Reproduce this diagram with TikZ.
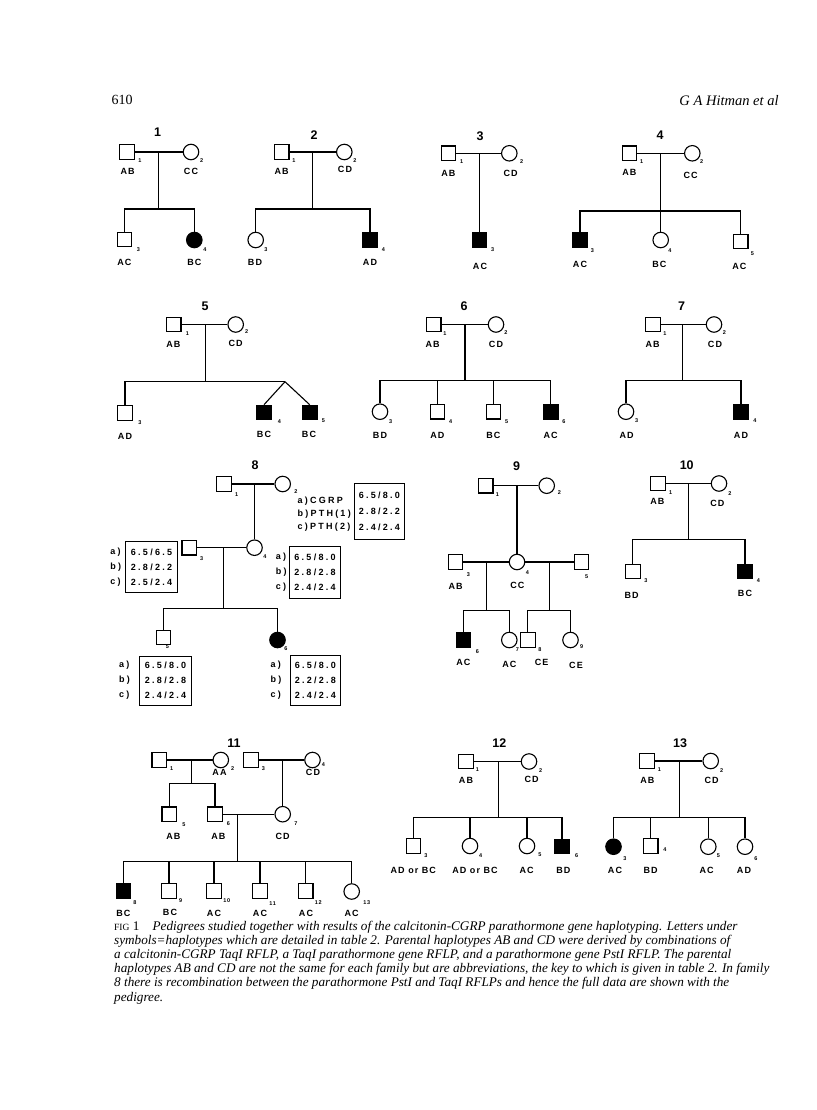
\documentclass[tikz,border=0pt]{standalone}
\usepackage{fontspec}
\setmainfont{Liberation Serif}
\setsansfont{Liberation Sans}
\newfontfamily\pedsans[LetterSpace=12]{Liberation Sans}
\newfontfamily\boxsans[LetterSpace=25]{Liberation Sans}
\usepackage{tikz}
\usetikzlibrary{positioning}
\newcommand\labfont{\pedsans\bfseries\fontsize{9}{10}\selectfont}
\newcommand\idfont{\pedsans\bfseries\fontsize{5.5}{6}\selectfont}
\newcommand\pnofont{\sffamily\bfseries\fontsize{12.5}{14}\selectfont}
\newcommand\boxfont{\boxsans\bfseries\fontsize{9}{15}\selectfont}
\newcommand\capfont{\rmfamily\itshape\fontsize{13.2}{14}\selectfont}

\begin{document}
\begin{tikzpicture}[x=1pt, y=-1pt,
  ln/.style={line width=1.1pt},
  sq/.style={draw, line width=1.1pt, minimum size=14.5pt, inner sep=0pt},
  sqf/.style={sq, fill=black},
  ci/.style={draw, circle, line width=1.1pt, minimum size=15.5pt, inner sep=0pt},
  cif/.style={ci, fill=black},
  lab/.style={font=\labfont, inner sep=0pt},
  idn/.style={font=\idfont, inner sep=0pt},
  pno/.style={font=\pnofont, inner sep=0pt},
  hbox/.style={draw, line width=0.9pt, inner sep=0pt, align=center, font=\boxfont},
  abc/.style={font=\boxfont, inner sep=0pt, align=left},
  captxt/.style={font=\capfont, inner sep=0pt, anchor=base west}]
  \useasboundingbox (0,0) rectangle (816,1110);

  \node[font=\rmfamily\fontsize{14}{16}\selectfont, inner sep=0pt] (pgno) at (122.2,100) {610};
  \node[font=\rmfamily\itshape\fontsize{14.5}{16}\selectfont, inner sep=0pt] (runhd) at (729,101) {G A Hitman et al};

  % family 1
  \node[pno] (f1no) at (157.7,132.7) {1};
  \node[sq] (f1p1) at (127,152) {};
  \node[ci] (f1p2) at (191,152) {};
  \node[sq] (f1p3) at (124.3,239.5) {};
  \node[cif] (f1p4) at (194.3,240) {};
  \coordinate (f1m) at (158.7,152);
  \coordinate (f1s) at (158.7,209);
  \draw[ln] (f1p1) -- (f1p2);
  \draw[ln] (f1m) -- (f1s);
  \draw[ln] (f1p3) |- (f1s) -| (f1p4);
  \node[lab] (f1l1) at (127.7,171) {AB};
  \node[lab] (f1l2) at (191,171) {CC};
  \node[lab] (f1l3) at (124.3,262) {AC};
  \node[lab] (f1l4) at (194.3,262) {BC};
  \node[idn] (f1i1) at (140,161) {1};
  \node[idn] (f1i2) at (201.7,160.7) {2};
  \node[idn] (f1i3) at (138.3,250) {3};
  \node[idn] (f1i4) at (205,250) {4};

  % family 2
  \node[pno] (f2no) at (314,135) {2};
  \node[sq] (f2p1) at (281.7,152) {};
  \node[ci] (f2p2) at (344.3,152) {};
  \node[ci] (f2p3) at (255.7,240) {};
  \node[sqf] (f2p4) at (370,240) {};
  \coordinate (f2m) at (312.3,152);
  \coordinate (f2s) at (312.3,209);
  \draw[ln] (f2p1) -- (f2p2);
  \draw[ln] (f2m) -- (f2s);
  \draw[ln] (f2p3) |- (f2s) -| (f2p4);
  \node[lab] (f2l1) at (281.7,171) {AB};
  \node[lab] (f2l2) at (345,169.5) {CD};
  \node[lab] (f2l3) at (255,262) {BD};
  \node[lab] (f2l4) at (370,262) {AD};
  \node[idn] (f2i1) at (294,161) {1};
  \node[idn] (f2i2) at (355,160.7) {2};
  \node[idn] (f2i3) at (266,250) {3};
  \node[idn] (f2i4) at (383.3,250) {4};

  % family 3
  \node[pno] (f3no) at (480,136.7) {3};
  \node[sq] (f3p1) at (448.3,153.3) {};
  \node[ci] (f3p2) at (509.3,153.3) {};
  \node[sqf] (f3p3) at (479.5,240) {};
  \coordinate (f3m) at (479.5,153.3);
  \draw[ln] (f3p1) -- (f3p2);
  \draw[ln] (f3m) -- (f3p3);
  \node[lab] (f3l1) at (448.3,173.3) {AB};
  \node[lab] (f3l2) at (510.7,173.3) {CD};
  \node[lab] (f3l3) at (480,266) {AC};
  \node[idn] (f3i1) at (461.7,161.7) {1};
  \node[idn] (f3i2) at (521.7,161.7) {2};
  \node[idn] (f3i3) at (492.7,249.3) {3};

  % family 4
  \node[pno] (f4no) at (660,135) {4};
  \node[sq] (f4p1) at (629.3,153.3) {};
  \node[ci] (f4p2) at (692.3,153.3) {};
  \node[sqf] (f4p3) at (580,240) {};
  \node[ci] (f4p4) at (660.7,240) {};
  \node[sq] (f4p5) at (740.7,241.5) {};
  \coordinate (f4m) at (660.7,153.3);
  \coordinate (f4s) at (660.7,211);
  \draw[ln] (f4p1) -- (f4p2);
  \draw[ln] (f4m) -- (f4s);
  \draw[ln] (f4p3) |- (f4s) -| (f4p5);
  \draw[ln] (f4p4) -- (f4p4 |- f4s);
  \node[lab] (f4l1) at (629.3,172.3) {AB};
  \node[lab] (f4l2) at (690.7,175) {CC};
  \node[lab] (f4l3) at (580,264) {AC};
  \node[lab] (f4l4) at (659.3,264) {BC};
  \node[lab] (f4l5) at (739.3,266) {AC};
  \node[idn] (f4i1) at (641.7,161.7) {1};
  \node[idn] (f4i2) at (701.7,161.7) {2};
  \node[idn] (f4i3) at (592.3,250.7) {3};
  \node[idn] (f4i4) at (670,250.7) {4};
  \node[idn] (f4i5) at (752.3,253.3) {5};

  % family 5
  \node[pno] (f5no) at (205,306) {5};
  \node[sq] (f5p1) at (173.7,324.5) {};
  \node[ci] (f5p2) at (235.7,324.5) {};
  \node[sq] (f5p3) at (125,413) {};
  \node[sqf] (f5p4) at (264,412.5) {};
  \node[sqf] (f5p5) at (309.7,412.5) {};
  \coordinate (f5m) at (205.7,324.5);
  \coordinate (f5s) at (205.7,381.7);
  \coordinate (f5t) at (285,381.7);
  \draw[ln] (f5p1) -- (f5p2);
  \draw[ln] (f5m) -- (f5s);
  \draw[ln] (f5p3) |- (f5t);
  \draw[ln] (f5t) -- (f5p4.north);
  \draw[ln] (f5t) -- (f5p5.north);
  \node[lab] (f5l1) at (173.3,344.3) {AB};
  \node[lab] (f5l2) at (235.7,343.3) {CD};
  \node[lab] (f5l3) at (125,436.7) {AD};
  \node[lab] (f5l4) at (264,434) {BC};
  \node[lab] (f5l5) at (309,434) {BC};
  \node[idn] (f5i1) at (187.3,333.3) {1};
  \node[idn] (f5i2) at (246.7,331.7) {2};
  \node[idn] (f5i3) at (140,422.7) {3};
  \node[idn] (f5i4) at (279.3,421.7) {4};
  \node[idn] (f5i5) at (323.3,421) {5};

  % family 6
  \node[pno] (f6no) at (464,306) {6};
  \node[sq] (f6p1) at (433.7,324.5) {};
  \node[ci] (f6p2) at (496,324.5) {};
  \node[ci] (f6p3) at (380,411.7) {};
  \node[sq] (f6p4) at (437.3,411.7) {};
  \node[sq] (f6p5) at (493.3,411.7) {};
  \node[sqf] (f6p6) at (550.7,411.7) {};
  \coordinate (f6m) at (465,324.5);
  \coordinate (f6s) at (465,380.7);
  \draw[ln] (f6p1) -- (f6p2);
  \draw[ln] (f6m) -- (f6s);
  \draw[ln] (f6p3) |- (f6s) -| (f6p6);
  \draw[ln] (f6p4) -- (f6p4 |- f6s);
  \draw[ln] (f6p5) -- (f6p5 |- f6s);
  \node[lab] (f6l1) at (432.7,344) {AB};
  \node[lab] (f6l2) at (496,344) {CD};
  \node[lab] (f6l3) at (380,435.7) {BD};
  \node[lab] (f6l4) at (437.3,435.7) {AD};
  \node[lab] (f6l5) at (493.3,435.7) {BC};
  \node[lab] (f6l6) at (550.7,435.7) {AC};
  \node[idn] (f6i1) at (445,333.3) {1};
  \node[idn] (f6i2) at (506,332.7) {2};
  \node[idn] (f6i3) at (390.7,421.7) {3};
  \node[idn] (f6i4) at (450.7,421.7) {4};
  \node[idn] (f6i5) at (506.7,421.7) {5};
  \node[idn] (f6i6) at (564,421.7) {6};

  % family 7
  \node[pno] (f7no) at (681.7,306) {7};
  \node[sq] (f7p1) at (653,324.5) {};
  \node[ci] (f7p2) at (714,324.5) {};
  \node[ci] (f7p3) at (626,411.7) {};
  \node[sqf] (f7p4) at (741,411.7) {};
  \coordinate (f7m) at (682.7,324.5);
  \coordinate (f7s) at (682.7,380.7);
  \draw[ln] (f7p1) -- (f7p2);
  \draw[ln] (f7m) -- (f7s);
  \draw[ln] (f7p3) |- (f7s) -| (f7p4);
  \node[lab] (f7l1) at (652.7,344) {AB};
  \node[lab] (f7l2) at (715,344) {CD};
  \node[lab] (f7l3) at (626.7,435.7) {AD};
  \node[lab] (f7l4) at (741,435.7) {AD};
  \node[idn] (f7i1) at (665,333.3) {1};
  \node[idn] (f7i2) at (724.3,332.7) {2};
  \node[idn] (f7i3) at (636.7,421) {3};
  \node[idn] (f7i4) at (755,421) {4};

  % family 8
  \node[pno] (f8no) at (255,465) {8};
  \node[sq] (f8p1) at (223.8,484) {};
  \node[ci] (f8p2) at (282.7,484) {};
  \node[sq] (f8p3) at (189.2,547.7) {};
  \node[ci] (f8p4) at (254.5,547.7) {};
  \node[sq] (f8p5) at (163.3,637.5) {};
  \node[cif] (f8p6) at (277.5,640) {};
  \coordinate (f8m) at (254.5,484);
  \coordinate (f8m2) at (223.3,547.7);
  \coordinate (f8s) at (223.3,608.3);
  \draw[ln] (f8p1) -- (f8p2);
  \draw[ln] (f8m) -- (f8p4);
  \draw[ln] (f8p3) -- (f8p4);
  \draw[ln] (f8m2) -- (f8s);
  \draw[ln] (f8p5) |- (f8s) -| (f8p6);
  \node[idn] (f8i1) at (236.7,494.3) {1};
  \node[idn] (f8i2) at (296,491.7) {2};
  \node[idn] (f8i3) at (201.7,558.3) {3};
  \node[idn] (f8i4) at (265,556.7) {4};
  \node[idn] (f8i5) at (167.3,646.7) {5};
  \node[idn] (f8i6) at (286,648.3) {6};
  \node[hbox, minimum width=50pt, minimum height=56pt, font=\boxsans\bfseries\fontsize{9}{16}\selectfont] (f8k) at (379.3,511.3) {6.5/8.0\\2.8/2.2\\2.4/2.4};
  \node[abc, anchor=west, font=\boxsans\bfseries\fontsize{9}{12.7}\selectfont] (f8kl) at (297.3,514.3) {a)CGRP\\b)PTH(1)\\c)PTH(2)};
  \node[hbox, minimum width=51.6pt, minimum height=51pt] (f8b3) at (151.5,567.2) {6.5/6.5\\2.8/2.2\\2.5/2.4};
  \node[abc, left=4pt of f8b3] (f8a3) {a)\\b)\\c)};
  \node[hbox, minimum width=51.4pt, minimum height=52.3pt] (f8b4) at (315,572.2) {6.5/8.0\\2.8/2.8\\2.4/2.4};
  \node[abc, left=2pt of f8b4] (f8a4) {a)\\b)\\c)};
  \node[hbox, minimum width=52pt, minimum height=49pt] (f8b5) at (165.5,680.5) {6.5/8.0\\2.8/2.8\\2.4/2.4};
  \node[abc, left=9pt of f8b5] (f8a5) {a)\\b)\\c)};
  \node[hbox, minimum width=50.7pt, minimum height=50pt] (f8b6) at (315.3,680) {6.5/8.0\\2.2/2.8\\2.4/2.4};
  \node[abc, left=8pt of f8b6] (f8a6) {a)\\b)\\c)};

  % family 9
  \node[pno] (f9no) at (516.7,466) {9};
  \node[sq] (f9p1) at (485.7,485.7) {};
  \node[ci] (f9p2) at (546.7,485.7) {};
  \node[sq] (f9p3) at (455.3,562) {};
  \node[ci] (f9p4) at (517,562) {};
  \node[sq] (f9p5) at (581.3,562) {};
  \node[sqf] (f9p6) at (463.5,639.7) {};
  \node[ci] (f9p7) at (509.3,640) {};
  \node[sq] (f9p8) at (527.8,640) {};
  \node[ci] (f9p9) at (570.5,640) {};
  \coordinate (f9m) at (517,485.7);
  \coordinate (f9m2) at (486.7,562);
  \coordinate (f9s2) at (486.7,610.5);
  \coordinate (f9m3) at (549.3,562);
  \coordinate (f9s3) at (549.3,610.5);
  \draw[ln] (f9p1) -- (f9p2);
  \draw[ln] (f9m) -- (f9p4);
  \draw[ln] (f9p3) -- (f9p4);
  \draw[ln] (f9p4) -- (f9p5);
  \draw[ln] (f9m2) -- (f9s2);
  \draw[ln] (f9m3) -- (f9s3);
  \draw[ln] (f9p6) |- (f9s2) -| (f9p7);
  \draw[ln] (f9p8) |- (f9s3) -| (f9p9);
  \node[lab] (f9l3) at (455.7,586) {AB};
  \node[lab] (f9l4) at (517.3,585) {CC};
  \node[lab] (f9l6) at (463.3,662.3) {AC};
  \node[lab] (f9l7) at (509.3,664) {AC};
  \node[lab] (f9l8) at (541.7,662.3) {CE};
  \node[lab] (f9l9) at (576,665) {CE};
  \node[idn] (f9i1) at (497.3,495) {1};
  \node[idn] (f9i2) at (559.3,492.7) {2};
  \node[idn] (f9i3) at (468.3,574.3) {3};
  \node[idn] (f9i4) at (527.3,572.3) {4};
  \node[idn] (f9i5) at (586.7,576.7) {5};
  \node[idn] (f9i6) at (477.3,651.7) {6};
  \node[idn] (f9i7) at (517.3,650) {7};
  \node[idn] (f9i8) at (540,650) {8};
  \node[idn] (f9i9) at (581.7,646.7) {9};

  % family 10
  \node[pno] (f10no) at (686.7,465) {10};
  \node[sq] (f10p1) at (658,483.5) {};
  \node[ci] (f10p2) at (719,483.5) {};
  \node[sq] (f10p3) at (632.8,571.5) {};
  \node[sqf] (f10p4) at (745,571.5) {};
  \coordinate (f10m) at (688.3,483.5);
  \coordinate (f10s) at (688.3,539.3);
  \draw[ln] (f10p1) -- (f10p2);
  \draw[ln] (f10m) -- (f10s);
  \draw[ln] (f10p3) |- (f10s) -| (f10p4);
  \node[lab] (f10l1) at (657.3,501.7) {AB};
  \node[lab] (f10l2) at (717.3,503.3) {CD};
  \node[lab] (f10l3) at (631.7,595) {BD};
  \node[lab] (f10l4) at (745,593.3) {BC};
  \node[idn] (f10i1) at (670.7,492.7) {1};
  \node[idn] (f10i2) at (730,493.3) {2};
  \node[idn] (f10i3) at (646,580.7) {3};
  \node[idn] (f10i4) at (758.3,580.7) {4};

  % family 11
  \node[pno] (f11no) at (234,743.3) {11};
  \node[sq] (f11p1) at (159.2,760) {};
  \node[ci] (f11p2) at (220.8,760) {};
  \node[sq] (f11p3) at (250.8,760) {};
  \node[ci] (f11p4) at (312.5,760) {};
  \node[sq] (f11p5) at (169.2,814.2) {};
  \node[sq] (f11p6) at (215,814.2) {};
  \node[ci] (f11p7) at (282.7,814.2) {};
  \node[sqf] (f11p8) at (123.3,891) {};
  \node[sq] (f11p9) at (169,891) {};
  \node[sq] (f11p10) at (214,891) {};
  \node[sq] (f11p11) at (260,891) {};
  \node[sq] (f11p12) at (305.7,891) {};
  \node[ci] (f11p13) at (351.7,891.5) {};
  \coordinate (f11m1) at (191.7,760);
  \coordinate (f11s1) at (191.7,783.3);
  \coordinate (f11m3) at (282.7,760);
  \coordinate (f11m2) at (237.3,814.2);
  \coordinate (f11s2) at (237.3,861.7);
  \draw[ln] (f11p1) -- (f11p2);
  \draw[ln] (f11p3) -- (f11p4);
  \draw[ln] (f11m1) -- (f11s1);
  \draw[ln] (f11p5) |- (f11s1) -| (f11p6);
  \draw[ln] (f11m3) -- (f11p7);
  \draw[ln] (f11p6) -- (f11p7);
  \draw[ln] (f11m2) -- (f11s2);
  \draw[ln] (f11p8) |- (f11s2) -| (f11p13);
  \draw[ln] (f11p9) -- (f11p9 |- f11s2);
  \draw[ln] (f11p10) -- (f11p10 |- f11s2);
  \draw[ln] (f11p11) -- (f11p11 |- f11s2);
  \draw[ln] (f11p12) -- (f11p12 |- f11s2);
  \node[lab] (f11l2) at (219.5,772) {AA};
  \node[lab] (f11l4) at (313,772) {CD};
  \node[lab] (f11l5) at (173.3,836) {AB};
  \node[lab] (f11l6) at (218.3,836) {AB};
  \node[lab] (f11l7) at (282.7,836) {CD};
  \node[lab] (f11l8) at (123.3,913) {BC};
  \node[lab] (f11l9) at (170,912.7) {BC};
  \node[lab] (f11l10) at (214,913) {AC};
  \node[lab] (f11l11) at (260,913) {AC};
  \node[lab] (f11l12) at (306,913) {AC};
  \node[lab] (f11l13) at (351.7,913) {AC};
  \node[idn] (f11i1) at (171.7,769) {1};
  \node[idn] (f11i2) at (232.7,769) {2};
  \node[idn] (f11i3) at (263.3,769) {3};
  \node[idn] (f11i4) at (323.3,765) {4};
  \node[idn] (f11i5) at (184,824.3) {5};
  \node[idn] (f11i6) at (228.3,823.3) {6};
  \node[idn] (f11i7) at (296,823.3) {7};
  \node[idn] (f11i8) at (135,902.7) {8};
  \node[idn] (f11i9) at (180.7,900.7) {9};
  \node[idn] (f11i10) at (226.7,900.7) {10};
  \node[idn] (f11i11) at (272.7,903.3) {11};
  \node[idn] (f11i12) at (318.3,902.7) {12};
  \node[idn] (f11i13) at (366.7,902.7) {13};

  % family 12
  \node[pno] (f12no) at (499.3,742.7) {12};
  \node[sq] (f12p1) at (466,761.5) {};
  \node[ci] (f12p2) at (529,761.5) {};
  \node[sq] (f12p3) at (413.3,846) {};
  \node[ci] (f12p4) at (470,846) {};
  \node[ci] (f12p5) at (527,846) {};
  \node[sqf] (f12p6) at (562,846.5) {};
  \coordinate (f12m) at (498.3,761.5);
  \coordinate (f12s) at (498.3,817.3);
  \draw[ln] (f12p1) -- (f12p2);
  \draw[ln] (f12m) -- (f12s);
  \draw[ln] (f12p3) |- (f12s) -| (f12p6);
  \draw[ln] (f12p4) -- (f12p4 |- f12s);
  \draw[ln] (f12p5) -- (f12p5 |- f12s);
  \node[lab] (f12l1) at (466,780.7) {AB};
  \node[lab] (f12l2) at (531.7,779) {CD};
  \node[lab] (f12l3) at (413.3,870) {AD or BC};
  \node[lab] (f12l4) at (475,870) {AD or BC};
  \node[lab] (f12l5) at (526.7,870) {AC};
  \node[lab] (f12l6) at (563.3,870) {BD};
  \node[idn] (f12i1) at (477.3,770) {1};
  \node[idn] (f12i2) at (540.7,770.7) {2};
  \node[idn] (f12i3) at (426,856) {3};
  \node[idn] (f12i4) at (480.7,856) {4};
  \node[idn] (f12i5) at (540,854.3) {5};
  \node[idn] (f12i6) at (576.7,856) {6};

  % family 13
  \node[pno] (f13no) at (680,742.7) {13};
  \node[sq] (f13p1) at (647,761) {};
  \node[ci] (f13p2) at (710.7,761) {};
  \node[cif] (f13p3) at (613.5,846.7) {};
  \node[sq] (f13p4) at (650.7,846) {};
  \node[ci] (f13p5) at (708.3,846.7) {};
  \node[ci] (f13p6) at (745,846.7) {};
  \coordinate (f13m) at (679.3,761);
  \coordinate (f13s) at (679.3,817.3);
  \draw[ln] (f13p1) -- (f13p2);
  \draw[ln] (f13m) -- (f13s);
  \draw[ln] (f13p3) |- (f13s) -| (f13p6);
  \draw[ln] (f13p4) -- (f13p4 |- f13s);
  \draw[ln] (f13p5) -- (f13p5 |- f13s);
  \node[lab] (f13l1) at (647.3,780.7) {AB};
  \node[lab] (f13l2) at (711.7,780.7) {CD};
  \node[lab] (f13l3) at (615,870) {AC};
  \node[lab] (f13l4) at (650.7,870) {BD};
  \node[lab] (f13l5) at (706.7,870) {AC};
  \node[lab] (f13l6) at (744,870) {AD};
  \node[idn] (f13i1) at (659.3,770) {1};
  \node[idn] (f13i2) at (721.7,770.7) {2};
  \node[idn] (f13i3) at (625,858.3) {3};
  \node[idn] (f13i4) at (665,850) {4};
  \node[idn] (f13i5) at (718.3,856) {5};
  \node[idn] (f13i6) at (756,858.3) {6};

  % caption
  \node[captxt] (cap1) at (114,930) {{\upshape{\fontsize{9.5}{10}\selectfont FIG}~1}\quad Pedigrees studied together with results of the calcitonin-CGRP parathormone gene haplotyping. Letters under};
  \node[captxt] (cap2) at (114,944.2) {symbols=haplotypes which are detailed in table 2. Parental haplotypes AB and CD were derived by combinations of};
  \node[captxt] (cap3) at (114,958.4) {a calcitonin-CGRP TaqI RFLP, a TaqI parathormone gene RFLP, and a parathormone gene PstI RFLP. The parental};
  \node[captxt] (cap4) at (114,972.6) {haplotypes AB and CD are not the same for each family but are abbreviations, the key to which is given in table 2. In family};
  \node[captxt] (cap5) at (114,986.8) {8 there is recombination between the parathormone PstI and TaqI RFLPs and hence the full data are shown with the};
  \node[captxt] (cap6) at (114,1001) {pedigree.};
\end{tikzpicture}
\end{document}
